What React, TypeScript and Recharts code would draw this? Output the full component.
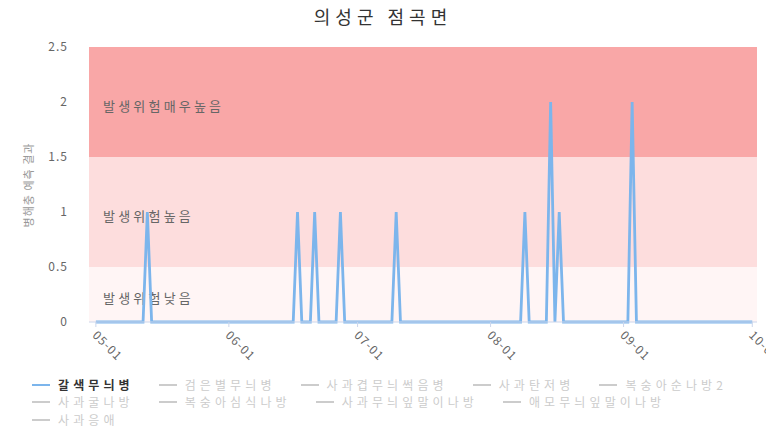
import { LineChart, Line, XAxis, YAxis, ReferenceArea } from "recharts";

const FONT = '"Noto Sans CJK KR", "Noto Sans", sans-serif';

// 위험도 예측 값 (갈색무늬병) - 날짜별
const riskDates = [
  "05-01", "05-12", "05-13", "05-14",
  "06-16", "06-17", "06-18",
  "06-20", "06-21", "06-22",
  "06-26", "06-27", "06-28",
  "07-09", "07-10", "07-11",
  "08-08", "08-09", "08-10",
  "08-14", "08-15", "08-16", "08-17", "08-18",
  "09-02", "09-03", "09-04",
  "10-01",
];
const riskValues = [
  0, 0, 1, 0,
  0, 1, 0,
  0, 1, 0,
  0, 1, 0,
  0, 1, 0,
  0, 1, 0,
  0, 2, 0, 1, 0,
  0, 2, 0,
  0,
];

const xTickLabels = ["05-01", "06-01", "07-01", "08-01", "09-01", "10-01"];
const yTicks = [0, 0.5, 1, 1.5, 2, 2.5];

const bandRanges = [
  [0, 0.5],
  [0.5, 1.5],
  [1.5, 2.5],
];
const bandLabels = ["발생위험낮음", "발생위험높음", "발생위험매우높음"];
const bandColors = ["#fff5f5", "#fddddd", "#f9a7a7"];

const seriesNames = [
  "갈색무늬병", "검은별무늬병", "사과겹무늬썩음병", "사과탄저병", "복숭아순나방2",
  "사과굴나방", "복숭아심식나방", "사과무늬잎말이나방", "애모무늬잎말이나방", "사과응애",
];

// day offset from 05-01
const monthStart: Record<string, number> = { "05": 0, "06": 31, "07": 61, "08": 92, "09": 123, "10": 153 };
const toDay = (s: string) => monthStart[s.slice(0, 2)] + Number(s.slice(3)) - 1;

const data = riskDates.map((d, i) => ({ day: toDay(d), value: riskValues[i] }));
const xTicks = xTickLabels.map(toDay);

function BandLabel(props: any) {
  const vb = props.viewBox || {};
  return (
    <text
      x={vb.x + 14}
      y={vb.y + vb.height / 2 + 3}
      fill="#666"
      fontSize={13}
      letterSpacing={3.2}
      fontFamily={FONT}
      dominantBaseline="central"
    >
      {props.text}
    </text>
  );
}

function DateTick(props: any) {
  const { x, y, payload } = props;
  const label = xTickLabels[xTicks.indexOf(payload.value)];
  return (
    <text
      x={x - 4}
      y={y + 7}
      transform={`rotate(45, ${x - 4}, ${y + 7})`}
      fill="#666"
      fontSize={12}
      fontFamily={FONT}
      textAnchor="start"
      letterSpacing={1}
    >
      {label}
    </text>
  );
}

export default function App() {
  return (
    <div style={{ position: "absolute", left: 0, top: 0, width: 766, height: 443, background: "#fff", fontFamily: FONT }}>
      <div style={{ position: "absolute", top: 3, left: 0, width: 766, textAlign: "center", fontSize: 18, letterSpacing: 5, color: "#333" }}>
        의성군 점곡면
      </div>
      <div
        style={{
          position: "absolute", left: 28, top: 185, transform: "translate(-50%, -50%) rotate(-90deg)",
          fontSize: 11, color: "#999", whiteSpace: "nowrap", letterSpacing: 1,
        }}
      >
        병해충 예측 결과
      </div>

      <LineChart width={766} height={443} data={data} margin={{ top: 47, right: 9, left: 29, bottom: 81 }}>
        {bandRanges.map((r, i) => (
          <ReferenceArea
            key={i}
            y1={r[0]}
            y2={r[1]}
            fill={bandColors[i]}
            fillOpacity={1}
            stroke="none"
            label={<BandLabel text={bandLabels[i]} />}
          />
        ))}
        <XAxis
          type="number"
          dataKey="day"
          domain={[-1.6, 154.1]}
          ticks={xTicks}
          height={40}
          stroke="#ccd6eb"
          tickSize={5}
          tick={<DateTick />}
          allowDataOverflow
        />
        <YAxis
          domain={[0, 2.5]}
          ticks={yTicks}
          width={60}
          axisLine={false}
          tickLine={false}
          tickSize={0}
          tickMargin={21}
          tick={{ fill: "#666", fontSize: 12, fontFamily: FONT, letterSpacing: 1 }}
        />
        <Line
          type="linear"
          dataKey="value"
          stroke="#7cb5ec"
          strokeWidth={2.8}
          dot={false}
          isAnimationActive={false}
        />
      </LineChart>

      <div style={{ position: "absolute", left: 32, top: 376, width: 734, display: "flex", flexWrap: "wrap" }}>
        {seriesNames.map((name, i) => (
          <div key={name} style={{ display: "flex", alignItems: "center", marginRight: 25, height: 17.5 }}>
            <span style={{ display: "inline-block", width: 18, height: 2, background: i === 0 ? "#7cb5ec" : "#ccc", marginRight: 8 }} />
            <span
              style={{
                fontSize: 12, lineHeight: "16px", letterSpacing: 4.1, color: i === 0 ? "#333" : "#ccc",
                fontWeight: i === 0 ? "bold" : "normal", whiteSpace: "nowrap",
              }}
            >
              {name}
            </span>
          </div>
        ))}
      </div>
    </div>
  );
}
